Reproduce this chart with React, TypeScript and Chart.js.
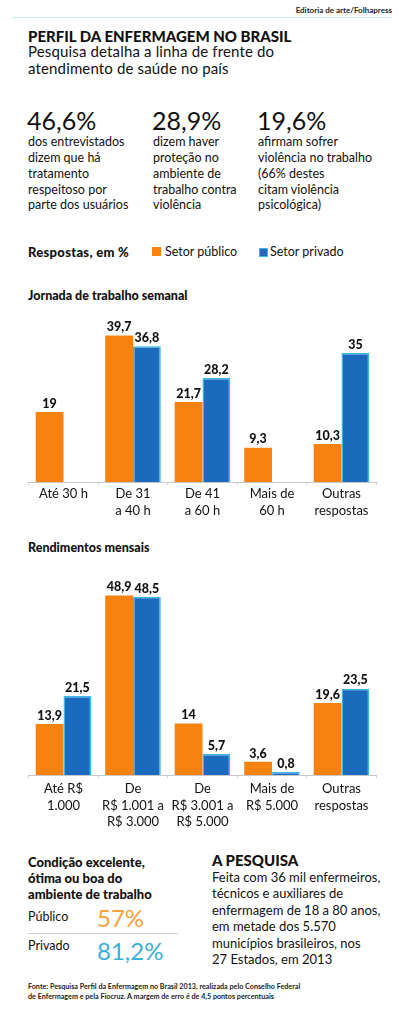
import React, { useEffect, useRef } from "react";
import { Chart, registerables } from "chart.js";
Chart.register(...registerables);

const FONT = "Lato, 'Noto Sans', sans-serif";
const ORANGE = "#f7820f";
const BLUE = "#1a6bbd";
const BLUE_EDGE = "#3cb6e6";

const seriesNames = ["Setor público", "Setor privado"];

const jornadaLabels = [["Até 30 h"], ["De 31", "a 40 h"], ["De 41", "a 60 h"], ["Mais de", "60 h"], ["Outras", "respostas"]];
const jornadaPublico = [19, 39.7, 21.7, 9.3, 10.3];
const jornadaPrivado = [null, 36.8, 28.2, null, 35];

const rendaLabels = [["Até R$", "1.000"], ["De", "R$ 1.001 a", "R$ 3.000"], ["De", "R$ 3.001 a", "R$ 5.000"], ["Mais de", "R$ 5.000"], ["Outras", "respostas"]];
const rendaPublico = [13.9, 48.9, 14, 3.6, 19.6];
const rendaPrivado = [21.5, 48.5, 5.7, 0.8, 23.5];

const fmt = (v: number) => String(v).replace(".", ",");

const valueLabels = {
  id: "valueLabels",
  afterDatasetsDraw(chart: any) {
    const ctx = chart.ctx;
    ctx.save();
    ctx.font = `900 12.5px ${FONT}`;
    ctx.fillStyle = "#111";
    ctx.textAlign = "center";
    ctx.textBaseline = "bottom";
    chart.data.datasets.forEach((ds: any, i: number) => {
      const meta = chart.getDatasetMeta(i);
      meta.data.forEach((el: any, j: number) => {
        const v = ds.data[j];
        if (v == null) return;
        ctx.fillText(fmt(v), el.x, el.y - 2);
      });
    });
    ctx.restore();
  },
};

function BarChart(props: any) {
  const { labels, pub, priv, top, height, axisH, yMax, padTop, tickPad } = props;
  const ref = useRef<HTMLCanvasElement>(null);
  useEffect(() => {
    const chart = new Chart(ref.current as HTMLCanvasElement, {
      type: "bar",
      data: {
        labels,
        datasets: [
          { label: seriesNames[0], data: pub, backgroundColor: ORANGE, borderWidth: 0, categoryPercentage: 0.8, barPercentage: 1 },
          { label: seriesNames[1], data: priv, backgroundColor: BLUE, borderColor: BLUE_EDGE, borderWidth: 1.5, categoryPercentage: 0.8, barPercentage: 1 },
        ],
      } as any,
      options: {
        responsive: false,
        animation: false,
        layout: { padding: { left: 28.75, right: 22.75, top: padTop, bottom: 0 } },
        plugins: { legend: { display: false }, tooltip: { enabled: false }, title: { display: false } },
        scales: {
          x: {
            grid: { display: true, drawOnChartArea: false, offset: true, tickLength: 3, color: "#d4d4d4" },
            border: { color: "#c8c8c8", width: 1 },
            ticks: { color: "#111", font: { family: FONT, size: 13, lineHeight: 1.3 }, padding: tickPad, maxRotation: 0, autoSkip: false },
            afterFit: (s: any) => { s.height = axisH; },
          },
          y: { display: false, min: 0, max: yMax },
        },
      } as any,
      plugins: [valueLabels],
    });
    return () => chart.destroy();
  }, []);
  return (
    <canvas ref={ref} width={399} height={height}
      style={{ position: "absolute", left: 0, top, width: 399, height }} />
  );
}

function T(props: any) {
  const { x, y, size = 12.5, weight = 400, color = "#111", lh, children, style } = props;
  const l = lh || Math.round(size * 1.25);
  return (
    <div style={{ position: "absolute", left: x, top: y - l / 2, fontSize: size, lineHeight: l + "px", fontWeight: weight, color, whiteSpace: "nowrap", fontFamily: FONT, ...style }}>
      {children}
    </div>
  );
}

function Lines(props: any) {
  const { x, y, lh, lines, size, weight, color, style } = props;
  return (
    <>
      {lines.map((t: string, i: number) => (
        <T key={i} x={x} y={y + i * lh} size={size} weight={weight} color={color} lh={lh} style={style}>{t}</T>
      ))}
    </>
  );
}

export default function App() {
  return (
    <div style={{ position: "absolute", left: 0, top: 0, width: 399, height: 1024, background: "#fff", overflow: "hidden", fontFamily: FONT }}>
      <T x={0} y={10} size={8} weight={700} color="#222" style={{ width: 392, textAlign: "right" }}>Editoria de arte/Folhapress</T>
      <div style={{ position: "absolute", left: 12, top: 17, width: 380, height: 1, background: "#c6ecf2" }} />

      <T x={28} y={36} size={15} weight={900}>PERFIL DA ENFERMAGEM NO BRASIL</T>
      <Lines x={28} y={51} lh={17} size={15} weight={400} style={{ letterSpacing: "0.15px" }} lines={["Pesquisa detalha a linha de frente do", "atendimento de saúde no país"]} />

      <T x={27} y={120} size={25} weight={400}>46,6%</T>
      <T x={152} y={120} size={25} weight={400}>28,9%</T>
      <T x={257} y={120} size={25} weight={400}>19,6%</T>
      <Lines x={28} y={142} lh={15.8} size={12.5} lines={["dos entrevistados", "dizem que há", "tratamento", "respeitoso por", "parte dos usuários"]} />
      <Lines x={153} y={142} lh={15.8} size={12.5} lines={["dizem haver", "proteção no", "ambiente de", "trabalho contra", "violência"]} />
      <Lines x={258} y={142} lh={15.8} size={12.5} lines={["afirmam sofrer", "violência no trabalho", "(66% destes", "citam violência", "psicológica)"]} />

      <T x={28} y={252} size={13} weight={900} style={{ letterSpacing: "0.3px" }}>Respostas, em %</T>
      <div style={{ position: "absolute", left: 152, top: 247, width: 9, height: 9, background: ORANGE }} />
      <T x={165} y={252} size={12.5}>{seriesNames[0]}</T>
      <div style={{ position: "absolute", left: 259, top: 248, width: 7, height: 7, background: BLUE, border: `1px solid ${BLUE_EDGE}` }} />
      <T x={270} y={252} size={12.5}>{seriesNames[1]}</T>

      <T x={28} y={296} size={12.5} weight={900}>Jornada de trabalho semanal</T>
      <BarChart labels={jornadaLabels} pub={jornadaPublico} priv={jornadaPrivado} top={300} height={232} axisH={50} yMax={45} padTop={16} tickPad={0} />

      <T x={28} y={548} size={12.5} weight={900}>Rendimentos mensais</T>
      <BarChart labels={rendaLabels} pub={rendaPublico} priv={rendaPrivado} top={555} height={285} axisH={65} yMax={55} padTop={18} tickPad={2} />

      <Lines x={28} y={862} lh={16} size={13} weight={900} lines={["Condição excelente,", "ótima ou boa do", "ambiente de trabalho"]} />
      <T x={28} y={917} size={12.5}>Público</T>
      <T x={97} y={918} size={24} weight={400} color="#f7a23a">57%</T>
      <div style={{ position: "absolute", left: 28, top: 933, width: 150, height: 1, background: "#cfcfcf" }} />
      <T x={28} y={946} size={12.5}>Privado</T>
      <T x={97} y={951} size={24} weight={400} color="#3ab0d8">81,2%</T>

      <T x={212} y={860} size={15} weight={900}>A PESQUISA</T>
      <Lines x={212} y={877} lh={16.5} size={13} lines={["Feita com 36 mil enfermeiros,", "técnicos e auxiliares de", "enfermagem de 18 a 80 anos,", "em metade dos 5.570", "municípios brasileiros, nos", "27 Estados, em 2013"]} />

      <Lines x={28} y={987} lh={9.5} size={7.2} weight={700} color="#222" lines={["Fonte: Pesquisa Perfil da Enfermagem no Brasil 2013, realizada pelo Conselho Federal", "de Enfermagem e pela Fiocruz. A margem de erro é de 4,5 pontos percentuais"]} />
    </div>
  );
}
